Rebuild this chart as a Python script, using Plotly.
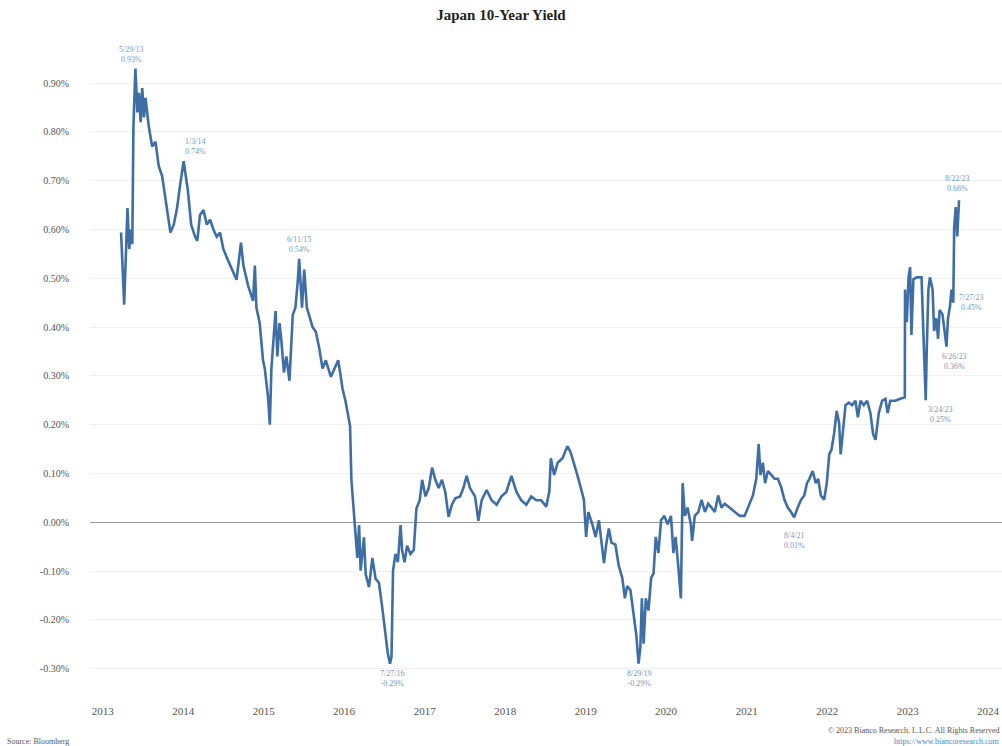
import plotly.graph_objects as go

# ---- Data ----
dates = [
    "2013-03-25", "2013-04-08", "2013-04-23", "2013-05-01", "2013-05-08", "2013-05-15", "2013-05-20",
    "2013-05-29", "2013-06-07", "2013-06-14", "2013-06-22", "2013-06-29", "2013-07-07", "2013-07-14",
    "2013-07-29", "2013-08-13", "2013-08-28", "2013-09-12", "2013-09-27", "2013-10-12", "2013-10-27",
    "2013-11-04", "2013-11-19", "2013-12-04", "2013-12-19",
    "2014-01-03", "2014-01-22", "2014-02-06", "2014-02-24", "2014-03-06", "2014-03-18", "2014-04-03",
    "2014-04-18", "2014-05-03", "2014-05-18", "2014-06-02", "2014-06-17", "2014-07-02", "2014-07-25",
    "2014-08-16", "2014-08-31", "2014-09-20", "2014-10-01", "2014-10-23", "2014-11-14", "2014-11-22",
    "2014-11-29", "2014-12-14", "2014-12-29",
    "2015-01-06", "2015-01-21", "2015-01-29", "2015-02-05", "2015-02-17", "2015-02-24", "2015-03-04",
    "2015-03-14", "2015-03-22", "2015-04-03", "2015-04-14", "2015-04-28", "2015-05-13", "2015-05-25",
    "2015-06-04", "2015-06-11", "2015-06-24", "2015-07-04", "2015-07-16", "2015-07-27", "2015-08-11",
    "2015-08-26", "2015-09-10", "2015-09-25", "2015-10-10", "2015-11-02", "2015-11-17", "2015-12-05",
    "2015-12-14", "2015-12-25",
    "2016-01-08", "2016-01-19", "2016-01-28", "2016-02-03", "2016-02-12", "2016-02-19", "2016-03-01",
    "2016-03-09", "2016-03-16", "2016-03-31", "2016-04-08", "2016-04-23", "2016-05-08", "2016-05-23",
    "2016-06-07", "2016-06-22", "2016-07-07", "2016-07-17", "2016-07-27", "2016-08-03", "2016-08-10",
    "2016-08-21", "2016-09-01", "2016-09-13", "2016-09-20", "2016-10-01", "2016-10-13", "2016-10-28",
    "2016-11-12", "2016-11-24", "2016-12-09", "2016-12-20",
    "2017-01-04", "2017-01-19", "2017-02-03", "2017-02-18", "2017-03-05", "2017-03-20", "2017-04-04",
    "2017-04-19", "2017-05-04", "2017-05-19", "2017-06-10", "2017-06-25", "2017-07-10", "2017-07-25",
    "2017-08-17", "2017-09-01", "2017-09-16", "2017-10-09", "2017-10-31", "2017-11-23", "2017-12-15",
    "2018-01-06", "2018-01-29", "2018-02-21", "2018-03-15", "2018-04-07", "2018-04-29", "2018-05-22",
    "2018-06-13", "2018-07-06", "2018-07-20", "2018-07-27", "2018-08-11", "2018-08-27", "2018-09-18",
    "2018-10-10", "2018-10-25", "2018-11-09", "2018-11-24", "2018-12-09", "2018-12-24",
    "2019-01-03", "2019-01-13", "2019-01-31", "2019-02-15", "2019-03-02", "2019-03-14", "2019-03-25",
    "2019-04-04", "2019-04-16", "2019-04-28", "2019-05-16", "2019-05-31", "2019-06-16", "2019-06-28",
    "2019-07-08", "2019-07-23", "2019-08-07", "2019-08-19", "2019-08-29", "2019-09-06", "2019-09-13",
    "2019-09-21", "2019-10-01", "2019-10-13", "2019-10-25", "2019-11-05", "2019-11-15", "2019-11-27",
    "2019-12-09", "2019-12-24",
    "2020-01-08", "2020-01-23", "2020-02-03", "2020-02-13", "2020-02-25", "2020-03-08", "2020-03-16",
    "2020-03-26", "2020-04-07", "2020-04-22", "2020-04-28", "2020-05-10", "2020-05-26", "2020-06-10",
    "2020-06-25", "2020-07-10", "2020-07-25", "2020-08-09", "2020-08-24", "2020-09-08", "2020-09-23",
    "2020-10-16", "2020-11-07", "2020-11-30", "2020-12-22",
    "2021-01-07", "2021-01-29", "2021-02-13", "2021-02-24", "2021-03-04", "2021-03-15", "2021-03-25",
    "2021-04-07", "2021-04-22", "2021-05-07", "2021-05-22", "2021-06-06", "2021-06-21", "2021-07-06",
    "2021-07-21", "2021-08-04", "2021-08-20", "2021-09-04", "2021-09-19", "2021-10-01", "2021-10-12",
    "2021-10-27", "2021-11-10", "2021-11-21", "2021-12-03", "2021-12-18", "2021-12-30",
    "2022-01-10", "2022-01-20", "2022-02-01", "2022-02-13", "2022-02-24", "2022-03-03", "2022-03-15",
    "2022-03-25", "2022-04-09", "2022-04-24", "2022-05-09", "2022-05-20", "2022-06-01", "2022-06-16",
    "2022-07-01", "2022-07-16", "2022-07-28", "2022-08-08", "2022-08-23", "2022-09-07", "2022-09-22",
    "2022-10-02", "2022-10-14", "2022-11-06", "2022-11-28", "2022-12-19", "2022-12-20", "2022-12-28",
    "2023-01-05", "2023-01-12", "2023-01-18", "2023-01-27", "2023-02-11", "2023-03-05", "2023-03-13",
    "2023-03-24", "2023-03-28", "2023-04-05", "2023-04-12", "2023-04-24", "2023-05-01", "2023-05-11",
    "2023-05-19", "2023-05-26", "2023-06-08", "2023-06-18", "2023-06-26", "2023-07-03", "2023-07-12",
    "2023-07-19", "2023-07-27", "2023-07-31", "2023-08-07", "2023-08-14", "2023-08-22",
]

yields = [
    0.594, 0.446, 0.644, 0.56, 0.60, 0.57, 0.81,
    0.93, 0.84, 0.88, 0.82, 0.89, 0.83, 0.87,
    0.81, 0.77, 0.78, 0.73, 0.71, 0.66, 0.62,
    0.594, 0.61, 0.644, 0.695,
    0.74, 0.68, 0.61, 0.585, 0.577, 0.63, 0.64,
    0.61, 0.62, 0.60, 0.585, 0.594, 0.56, 0.535,
    0.51, 0.497, 0.573, 0.526, 0.484, 0.454, 0.526,
    0.44, 0.408, 0.332,
    0.315, 0.256, 0.20, 0.315, 0.39, 0.433, 0.34,
    0.408, 0.374, 0.307, 0.34, 0.29, 0.425, 0.44,
    0.49, 0.54, 0.44, 0.518, 0.44, 0.425, 0.40,
    0.39, 0.357, 0.315, 0.332, 0.298, 0.315, 0.332,
    0.307, 0.273,
    0.247, 0.222, 0.197, 0.087, 0.036, -0.023, -0.073,
    -0.006, -0.099, -0.031, -0.107, -0.133, -0.073, -0.116,
    -0.124, -0.175, -0.226, -0.268, -0.29, -0.276, -0.099,
    -0.065, -0.082, -0.006, -0.057, -0.082, -0.048, -0.065,
    -0.057, 0.028, 0.045, 0.087,
    0.053, 0.07, 0.112, 0.087, 0.07, 0.087, 0.062,
    0.011, 0.036, 0.049, 0.053, 0.07, 0.095, 0.07,
    0.053, 0.003, 0.045, 0.066, 0.045, 0.036, 0.053,
    0.062, 0.095, 0.062, 0.045, 0.036, 0.053, 0.045,
    0.045, 0.032, 0.063, 0.131, 0.097, 0.122, 0.131,
    0.156, 0.143, 0.122, 0.097, 0.072, 0.046,
    -0.03, 0.021, -0.004, -0.03, 0.004, -0.038, -0.084,
    -0.046, -0.013, -0.042, -0.046, -0.089, -0.114, -0.156,
    -0.131, -0.139, -0.198, -0.232, -0.29, -0.257, -0.156,
    -0.249, -0.156, -0.181, -0.114, -0.105, -0.03, -0.063,
    0.004, 0.013,
    -0.004, 0.013, -0.063, -0.03, -0.089, -0.156, 0.08,
    0.013, 0.03, -0.004, -0.038, 0.013, 0.021, 0.046,
    0.021, 0.038, 0.03, 0.021, 0.055, 0.03, 0.038,
    0.03, 0.021, 0.013, 0.013,
    0.03, 0.055, 0.089, 0.16, 0.097, 0.122, 0.08,
    0.105, 0.097, 0.089, 0.089, 0.072, 0.046, 0.03,
    0.021, 0.01, 0.03, 0.046, 0.055, 0.08, 0.089,
    0.105, 0.08, 0.089, 0.055, 0.046, 0.08,
    0.139, 0.148, 0.181, 0.228, 0.203, 0.139, 0.198,
    0.24, 0.245, 0.24, 0.249, 0.215, 0.249, 0.24,
    0.249, 0.224, 0.181, 0.169, 0.224, 0.249, 0.253,
    0.224, 0.249, 0.249, 0.253, 0.256, 0.477, 0.41,
    0.502, 0.523, 0.384, 0.498, 0.502, 0.502, 0.392,
    0.25, 0.342, 0.477, 0.502, 0.477, 0.392, 0.418,
    0.376, 0.435, 0.426, 0.392, 0.36, 0.418, 0.443,
    0.477, 0.45, 0.603, 0.646, 0.586, 0.66,
]

# Callout labels
callout_dates = ["2013-05-29", "2014-01-03", "2015-06-11", "2016-07-27", "2019-08-29",
                 "2021-08-04", "2023-03-24", "2023-06-26", "2023-07-27", "2023-08-22"]
callout_values = [0.93, 0.74, 0.54, -0.29, -0.29, 0.01, 0.25, 0.36, 0.45, 0.66]
callout_texts = ["5/29/13<br>0.93%", "1/3/14<br>0.74%", "6/11/15<br>0.54%", "7/27/16<br>-0.29%",
                 "8/29/19<br>-0.29%", "8/4/21<br>0.01%", "3/24/23<br>0.25%", "6/26/23<br>0.36%",
                 "7/27/23<br>0.45%", "8/22/23<br>0.66%"]
callout_xshift = [-4, 12, 0, 2, 0, 0, 14, 8, 4, -2]
callout_yshift = [3, 3, 3, -3, -3, -12, -3, -3, 0, 5]
callout_xanchor = ["center", "center", "center", "center", "center", "center", "center", "center", "left", "center"]
callout_yanchor = ["bottom", "bottom", "bottom", "top", "top", "top", "top", "top", "middle", "bottom"]

year_ticks = [f"{y}-01-01" for y in range(2013, 2025)]
year_labels = [str(y) for y in range(2013, 2025)]
y_ticks = [-0.3, -0.2, -0.1, 0.0, 0.1, 0.2, 0.3, 0.4, 0.5, 0.6, 0.7, 0.8, 0.9]

SERIF = "Liberation Serif, DejaVu Serif, serif"
LINE = "#3f6ea6"
LABEL = "#7b97bb"

fig = go.Figure()
fig.add_trace(go.Scatter(
    x=dates, y=yields, mode="lines",
    line=dict(color=LINE, width=2.6),
    hoverinfo="x+y", showlegend=False,
))

for d, v, t, xs, ys, xa, ya in zip(callout_dates, callout_values, callout_texts,
                                   callout_xshift, callout_yshift, callout_xanchor, callout_yanchor):
    fig.add_annotation(x=d, y=v, text=t, showarrow=False, xshift=xs, yshift=ys,
                       xanchor=xa, yanchor=ya, align="center",
                       font=dict(family=SERIF, size=8, color=LABEL))

fig.add_annotation(x=-0.093, y=-0.075, xref="paper", yref="paper", text="Source: Bloomberg",
                   showarrow=False, xanchor="left", yanchor="middle",
                   font=dict(family=SERIF, size=8, color="#555555"))
fig.add_annotation(x=1.0, y=-0.059, xref="paper", yref="paper",
                   text="© 2023 Bianco Research, L.L.C. All Rights Reserved",
                   showarrow=False, xanchor="right", yanchor="middle",
                   font=dict(family=SERIF, size=8, color="#555555"))
fig.add_annotation(x=1.0, y=-0.076, xref="paper", yref="paper",
                   text="https://www.biancoresearch.com",
                   showarrow=False, xanchor="right", yanchor="middle",
                   font=dict(family=SERIF, size=8, color="#4a86c5"))

fig.update_layout(
    width=1002, height=746,
    margin=dict(l=90, r=0, t=49, b=53),
    paper_bgcolor="white", plot_bgcolor="white",
    title=dict(text="<b>Japan 10-Year Yield</b>", x=0.5, xanchor="center",
               y=0.98, yanchor="middle",
               font=dict(family=SERIF, size=15, color="#222222")),
    xaxis=dict(
        type="date", range=["2012-11-04", "2024-03-04"],
        tickvals=year_ticks, ticktext=year_labels,
        showgrid=False, zeroline=False, showline=False, ticks="",
        ticklabelstandoff=10,
        tickfont=dict(family=SERIF, size=11, color="#555555"),
    ),
    yaxis=dict(
        range=[-0.35, 0.97],
        tickvals=y_ticks, ticktext=[f"{v:.2f}%" for v in y_ticks],
        showgrid=True, gridcolor="#f1f1f1", gridwidth=1,
        zeroline=True, zerolinecolor="#9a9a9a", zerolinewidth=1.2,
        showline=False, ticks="", ticklabelstandoff=20,
        tickfont=dict(family=SERIF, size=10, color="#555555"),
    ),
)

fig.write_html("out.html", config={"displayModeBar": False},
               post_script="document.body.style.margin='0px';")
